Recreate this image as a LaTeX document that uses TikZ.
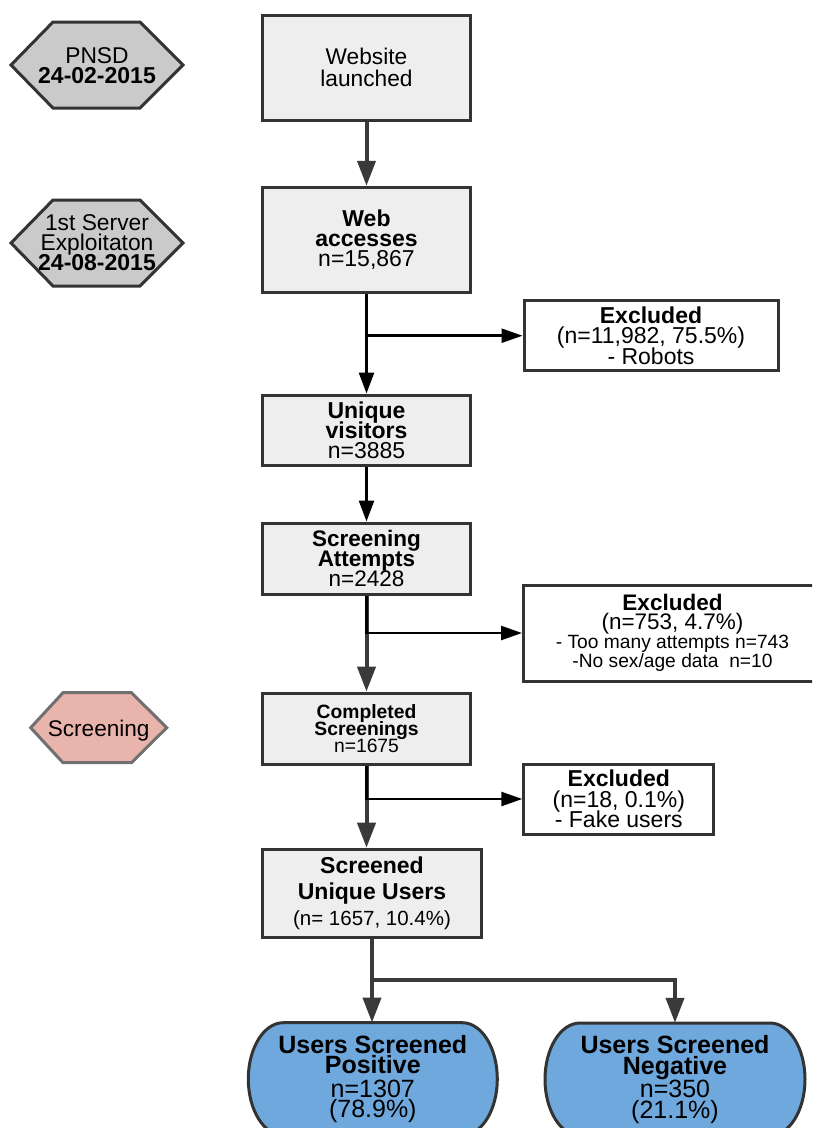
\documentclass[tikz,border=0pt]{standalone}
\usepackage{fontspec}
\setmainfont{Liberation Sans}
\usetikzlibrary{arrows.meta}
\definecolor{boxfill}{HTML}{EEEEEE}
\definecolor{edgecol}{HTML}{333333}
\definecolor{hexgray}{HTML}{CACACA}
\definecolor{hexpink}{HTML}{E8B4AC}
\definecolor{hexpinkline}{HTML}{707070}
\definecolor{userblue}{HTML}{6FA8DC}
\definecolor{arrowgray}{HTML}{3A3A3A}
\begin{document}
\begin{tikzpicture}[x=1pt,y=-1pt,
  box/.style={draw=edgecol, fill=boxfill, line width=3pt, minimum width=208pt, inner sep=0pt, align=center},
  exbox/.style={draw=edgecol, fill=white, line width=3pt, inner sep=0pt, align=center},
  txt/.style={inner sep=0pt, align=center},
  hexg/.style={draw=edgecol, fill=hexgray, line width=3pt, line join=miter},
  hexp/.style={draw=hexpinkline, fill=hexpink, line width=3pt, line join=miter},
  userfill/.style={draw=edgecol, fill=userblue, line width=3pt},
  thinarr/.style={draw=black, line width=2.5pt, -{Triangle[length=21pt,width=15pt]}},
  brarr/.style={draw=black, line width=2.5pt, -{Triangle[length=21pt,width=14pt]}},
  thickarr/.style={draw=arrowgray, line width=4pt, -{Triangle[length=25pt,width=18pt]}},
  grayline/.style={draw=arrowgray, line width=4pt},
]
\path[use as bounding box] (0,0) rectangle (812,1128);
\clip (0,0) rectangle (812,1128);
\fill[white] (0,0) rectangle (812,1128);

% side hexagons
\draw[hexg] (11,65) -- (53,22) -- (140,22) -- (183,65) -- (140,108) -- (53,108) -- cycle;
\node[txt, font={\fontsize{22.8}{19.8}\selectfont\lineskiplimit=-50pt}] (pnsd) at (97,65.8)
  {PNSD\\{\bfseries\fontsize{23}{19.8}\selectfont 24-02-2015}};
\draw[hexg] (11,243) -- (53,200) -- (140,200) -- (183,243) -- (140,286) -- (53,286) -- cycle;
\node[txt, font={\fontsize{22.8}{20}\selectfont\lineskiplimit=-50pt}] (server) at (97,242.6)
  {1st Server\\Exploitaton\\{\bfseries\fontsize{23}{20}\selectfont 24-08-2015}};
\draw[hexp] (30.7,727.7) -- (63,692.7) -- (131.5,692.7) -- (166.7,727.7) -- (131.5,762.7) -- (63,762.7) -- cycle;
\node[txt, font={\fontsize{22.6}{20}\selectfont}] (screening) at (98.7,730.8) {Screening};

% main boxes
\node[box, minimum height=105pt, font={\fontsize{22.7}{21.7}\selectfont\lineskiplimit=-50pt}] (web) at (366.5,67.5)
  {Website\\launched};
\node[box, minimum height=105pt, font={\fontsize{23}{19.8}\selectfont\lineskiplimit=-50pt}] (acc) at (366.5,239.8)
  {\textbf{Web}\\\textbf{accesses}\\n=15,867};
\node[exbox, minimum width=254pt, minimum height=70pt, font={\fontsize{23}{20.4}\selectfont\lineskiplimit=-50pt}] (ex1) at (651,335.7)
  {\textbf{Excluded}\\(n=11,982, 75.5\%)\\- Robots};
\node[box, minimum height=70pt, font={\fontsize{23}{20}\selectfont\lineskiplimit=-50pt}] (uniq) at (366.5,430)
  {\textbf{Unique}\\\textbf{visitors}\\n=3885};
\node[box, minimum height=71pt, font={\fontsize{22.5}{19.6}\selectfont\lineskiplimit=-50pt}] (att) at (366.5,558.5)
  {\textbf{Screening}\\\textbf{Attempts}\\n=2428};
\node[exbox, minimum width=298pt, minimum height=96pt, font={\fontsize{22.5}{19}\selectfont\lineskiplimit=-50pt}] (ex2) at (672.5,633)
  {\textbf{Excluded}\\(n=753, 4.7\%)\\{\fontsize{19.2}{19}\selectfont - Too many attempts n=743}\\{\fontsize{19.2}{19}\selectfont -No sex/age data\ \ n=10}};
\node[box, minimum height=71pt, font={\fontsize{19.3}{17}\selectfont\lineskiplimit=-50pt}] (comp) at (366.5,728.6)
  {\textbf{Completed}\\\textbf{Screenings}\\n=1675};
\node[exbox, minimum width=190pt, minimum height=70pt, font={\fontsize{23}{20.3}\selectfont\lineskiplimit=-50pt}] (ex3) at (618.8,799)
  {\textbf{Excluded}\\(n=18, 0.1\%)\\- Fake users};
\node[box, minimum width=219pt, minimum height=88pt, font={\fontsize{23}{26}\selectfont\lineskiplimit=-50pt}] (suu) at (372,893.2)
  {\textbf{Screened}\\\textbf{Unique Users}\\{\fontsize{20.5}{26}\selectfont (n= 1657, 10.4\%)}};

% outcome shapes
\path[userfill] (283.3,1022.7) -- (462.3,1022.7)
  arc[start angle=90, end angle=-90, x radius=35pt, y radius=56.3pt] -- (283.3,1135.3)
  arc[start angle=270, end angle=90, x radius=35pt, y radius=56.3pt] -- cycle;
\node[txt, minimum width=249pt, minimum height=112.6pt, font={\fontsize{25}{20.5}\selectfont\lineskiplimit=-50pt}] (pos) at (372.8,1079)
  {\textbf{Users Screened}\\\textbf{Positive}\\[3pt]n=1307\\(78.9\%)};
\path[userfill] (580,1023) -- (770,1023)
  arc[start angle=90, end angle=-90, x radius=35pt, y radius=56.3pt] -- (580,1135.6)
  arc[start angle=270, end angle=90, x radius=35pt, y radius=56.3pt] -- cycle;
\node[txt, minimum width=260pt, minimum height=112.6pt, font={\fontsize{25}{20.5}\selectfont\lineskiplimit=-50pt}] (neg) at (675,1079.3)
  {\textbf{Users Screened}\\\textbf{Negative}\\[3pt]n=350\\(21.1\%)};

% connectors
\draw[thickarr] (web) -- (acc);
\draw[thinarr] (acc) -- (uniq);
\draw[brarr] (acc.south) |- (ex1.west);
\draw[thinarr] (uniq) -- (att);
\draw[thickarr] (att) -- (comp);
\draw[brarr] (att.south) |- (ex2.west);
\draw[thickarr] (comp.south) -- (comp.south |- suu.north);
\draw[brarr] (comp.south) |- (ex3.west);
\coordinate (split) at (372,980);
\draw[grayline] (suu.south) -- (split);
\draw[thickarr] (split) -- (split |- pos.north);
\draw[thickarr] (split) -| (neg.north);
\end{tikzpicture}
\end{document}
